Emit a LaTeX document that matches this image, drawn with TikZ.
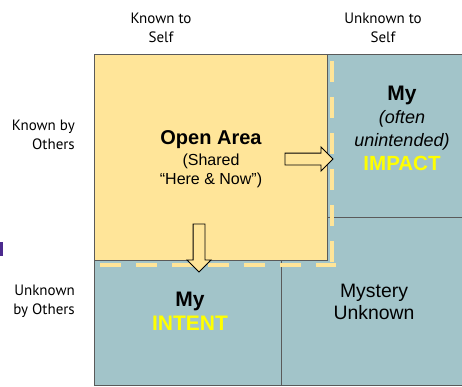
\documentclass[tikz,border=0pt]{standalone}
\usepackage{fontspec}
\setmainfont{Liberation Sans}
\newfontfamily\headfont{PT Sans}
\usetikzlibrary{shapes.arrows}

\definecolor{openyellow}{HTML}{FFE599}
\definecolor{blindteal}{HTML}{A2C4C9}
\definecolor{gridgray}{HTML}{5A5A5A}
\definecolor{hiyellow}{HTML}{FFFF00}
\definecolor{edgepurple}{HTML}{4B2A8E}

\begin{document}
\begin{tikzpicture}[x = 1pt, y = -1pt,
    head/.style = {font = \headfont\fontsize{15}{19}\selectfont, align = center, inner sep = 0pt},
    side/.style = {head, align = right, anchor = east},
    body/.style = {align = center, inner sep = 0pt},
    cell/.style = {draw = gridgray, line width = 1pt},
    seam/.style = {draw = openyellow, line width = 4.5pt, dash pattern = on 21pt off 15pt},
    blockarrow/.style = {single arrow, draw = black, fill = openyellow, line width = 0.9pt,
        inner sep = 5.5pt, single arrow head extend = 6pt, minimum height = 48pt}]
    \useasboundingbox (0,0) rectangle (462,386);

    % the four windows
    \draw[cell, fill = blindteal] (94,54.5) rectangle (470,385.5);
    \draw[cell] (281,54.5) -- (281,385.5);
    \draw[cell] (94,217) -- (470,217);
    \draw[cell, fill = openyellow] (94,54.5) rectangle (327,260);
    \draw[seam] (332,61) -- (332,267);
    \draw[seam] (100,265) -- (336,265);
    \fill[edgepurple] (0,242) rectangle (2.5,256);

    % headings
    \node[head] (kself) at (161,27.5) {Known to\\Self};
    \node[head] (uself) at (383,27.5) {Unknown to\\Self};
    \node[side] (kothers) at (75,134.5) {Known by\\Others};
    \node[side] (uothers) at (75,301) {Unknown\\by Others};

    % window texts
    \node[body, font = \fontsize{16}{19}\selectfont] (openarea) at (211,159)
        {{\fontsize{20}{24}\selectfont\bfseries Open Area}\\[2pt](Shared\\“Here \& Now”)};
    \node[body, font = \fontsize{18}{23}\selectfont] (impact) at (402,128)
        {{\fontsize{21}{24}\selectfont\bfseries My}\\\itshape(often\\\itshape unintended)\\[1pt]
         {\fontsize{20.5}{24}\selectfont\bfseries\color{hiyellow}IMPACT}};
    \node[body, font = \fontsize{21}{24}\selectfont\bfseries] (intent) at (190,311)
        {My\\{\color{hiyellow}INTENT}};
    \node[body, font = \fontsize{19.4}{22}\selectfont] (mystery) at (374,302)
        {Mystery\\Unknown};

    % arrows out of the open area
    \node[blockarrow] (toimpact) at (306,159) {};
    \node[blockarrow, shape border rotate = 270] (tointent) at (199,245) {};
\end{tikzpicture}
\end{document}
